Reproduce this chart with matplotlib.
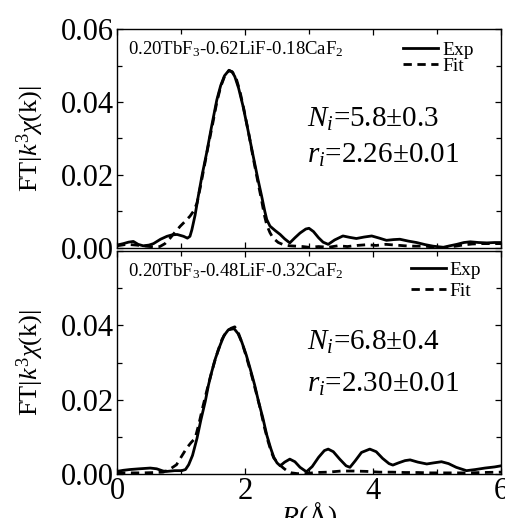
import matplotlib
matplotlib.use("Agg")
import matplotlib.pyplot as plt
from matplotlib.ticker import MultipleLocator, FixedLocator, FuncFormatter

plt.rcParams['font.family'] = ['Liberation Serif', 'DejaVu Serif']
plt.rcParams['mathtext.fontset'] = 'custom'
plt.rcParams['mathtext.rm'] = 'Liberation Serif'
plt.rcParams['mathtext.it'] = 'Liberation Serif:italic'
plt.rcParams['mathtext.bf'] = 'Liberation Serif:bold'

# ---------------- data ----------------
top_exp_r = [0.00, 0.10, 0.18, 0.255, 0.33, 0.41, 0.50, 0.57, 0.68, 0.78, 0.86, 0.94, 1.04, 1.10,
             1.14, 1.17, 1.22, 1.27, 1.33, 1.40, 1.48, 1.56, 1.62, 1.68, 1.75, 1.80, 1.84, 1.90,
             1.97, 2.05, 2.13, 2.20, 2.26, 2.31, 2.34, 2.39, 2.47, 2.55, 2.62, 2.70, 2.78, 2.86,
             2.95, 3.00, 3.07, 3.15, 3.22, 3.30, 3.40, 3.53, 3.64, 3.74, 3.86, 3.98, 4.10, 4.21,
             4.32, 4.42, 4.55, 4.68, 4.82, 4.94, 5.10, 5.20, 5.31, 5.42, 5.52, 5.65, 5.78, 5.90, 6.00]
top_exp_v = [0.0008, 0.0012, 0.0016, 0.0018, 0.0010, 0.0006, 0.0008, 0.0012, 0.0024, 0.0032, 0.0036,
             0.0037, 0.0032, 0.0027, 0.0032, 0.0050, 0.0090, 0.0142, 0.0200, 0.0260, 0.0335, 0.0406,
             0.0445, 0.0472, 0.0487, 0.0482, 0.0470, 0.0438, 0.0388, 0.0320, 0.0250, 0.0190, 0.0142,
             0.0100, 0.0078, 0.0060, 0.0048, 0.0037, 0.0025, 0.0014, 0.0028, 0.0041, 0.0052, 0.0054,
             0.0045, 0.0028, 0.0016, 0.0010, 0.0022, 0.0033, 0.0029, 0.0026, 0.0030, 0.0033, 0.0027,
             0.0021, 0.0023, 0.0024, 0.0019, 0.0015, 0.0009, 0.0005, 0.0002, 0.0006, 0.0010, 0.0015,
             0.0017, 0.0015, 0.0014, 0.0015, 0.0015]

top_fit_r = [0.00, 0.15, 0.30, 0.45, 0.58, 0.67, 0.75, 0.83, 0.91, 0.99, 1.07, 1.14, 1.20, 1.25,
             1.30, 1.36, 1.42, 1.50, 1.56, 1.62, 1.68, 1.75, 1.80, 1.86, 1.92, 1.98, 2.06, 2.13,
             2.20, 2.26, 2.30, 2.34, 2.39, 2.44, 2.52, 2.60, 2.70, 2.80, 2.90, 3.00, 3.15, 3.30,
             3.45, 3.60, 3.75, 3.90, 4.05, 4.20, 4.35, 4.50, 4.65, 4.80, 4.95, 5.10, 5.25, 5.40,
             5.55, 5.70, 5.85, 6.00]
top_fit_v = [0.0006, 0.0010, 0.0008, 0.0005, 0.0003, 0.0004, 0.0012, 0.0027, 0.0044, 0.0060, 0.0074,
             0.0087, 0.0102, 0.0123, 0.0165, 0.0220, 0.0275, 0.0345, 0.0400, 0.0442, 0.0470, 0.0486,
             0.0483, 0.0466, 0.0430, 0.0382, 0.0312, 0.0245, 0.0182, 0.0130, 0.0092, 0.0063, 0.0042,
             0.0027, 0.0015, 0.0009, 0.0006, 0.0005, 0.0004, 0.0002, 0.0004, 0.0002, 0.0006, 0.0004,
             0.0007, 0.0009, 0.0007, 0.0010, 0.0008, 0.0006, 0.0005, 0.0005, 0.0003, 0.0001, 0.0004,
             0.0008, 0.0011, 0.0012, 0.0012, 0.0012]

bot_exp_r = [0.00, 0.10, 0.20, 0.35, 0.52, 0.62, 0.72, 0.78, 0.90, 1.01, 1.07, 1.12, 1.18, 1.25,
             1.31, 1.38, 1.43, 1.48, 1.54, 1.61, 1.67, 1.74, 1.83, 1.89, 1.95, 2.02, 2.08, 2.15,
             2.21, 2.28, 2.34, 2.40, 2.45, 2.50, 2.55, 2.62, 2.70, 2.78, 2.86, 2.96, 3.05, 3.15,
             3.24, 3.30, 3.38, 3.48, 3.58, 3.64, 3.72, 3.82, 3.95, 4.05, 4.15, 4.25, 4.31, 4.40,
             4.50, 4.58, 4.70, 4.84, 4.95, 5.07, 5.18, 5.30, 5.46, 5.60, 5.75, 5.90, 6.00]
bot_exp_v = [0.0007, 0.0010, 0.0012, 0.0014, 0.0016, 0.0014, 0.0008, 0.0007, 0.0009, 0.0009, 0.0012,
             0.0025, 0.0050, 0.0096, 0.0145, 0.0196, 0.0240, 0.0275, 0.0312, 0.0346, 0.0372, 0.0388,
             0.0391, 0.0378, 0.0355, 0.0320, 0.0284, 0.0240, 0.0196, 0.0150, 0.0105, 0.0070, 0.0045,
             0.0030, 0.0022, 0.0032, 0.0040, 0.0033, 0.0018, 0.0006, 0.0020, 0.0045, 0.0063, 0.0067,
             0.0060, 0.0040, 0.0022, 0.0018, 0.0035, 0.0058, 0.0067, 0.0060, 0.0042, 0.0028, 0.0024,
             0.0030, 0.0036, 0.0038, 0.0032, 0.0027, 0.0030, 0.0033, 0.0028, 0.0018, 0.0009, 0.0012,
             0.0016, 0.0019, 0.0022]

bot_fit_r = [0.00, 0.20, 0.40, 0.60, 0.72, 0.80, 0.87, 0.93, 1.00, 1.09, 1.16, 1.22, 1.28, 1.34,
             1.40, 1.46, 1.52, 1.58, 1.64, 1.71, 1.78, 1.84, 1.90, 1.96, 2.03, 2.10, 2.17, 2.24,
             2.30, 2.36, 2.41, 2.45, 2.52, 2.60, 2.66, 2.73, 2.82, 2.95, 3.10, 3.30, 3.50, 3.70,
             3.90, 4.10, 4.30, 4.50, 4.70, 4.90, 5.10, 5.30, 5.50, 5.70, 6.00]
bot_fit_v = [0.0003, 0.0003, 0.0003, 0.0004, 0.0005, 0.0010, 0.0018, 0.0025, 0.0045, 0.0070, 0.0085,
             0.0096, 0.0135, 0.0180, 0.0222, 0.0262, 0.0300, 0.0333, 0.0362, 0.0383, 0.0392, 0.0396,
             0.0378, 0.0350, 0.0310, 0.0268, 0.0222, 0.0175, 0.0128, 0.0088, 0.0060, 0.0043, 0.0028,
             0.0016, 0.0008, 0.0003, 0.0001, 0.0001, 0.0004, 0.0005, 0.0008, 0.0008, 0.0007, 0.0005,
             0.0005, 0.0004, 0.0004, 0.0003, 0.0003, 0.0003, 0.0003, 0.0004, 0.0005]

sample_labels = [r"0.20TbF$_3$-0.62LiF-0.18CaF$_2$", r"0.20TbF$_3$-0.48LiF-0.32CaF$_2$"]
n_labels = [r"$N_i$=5.8±0.3", r"$N_i$=6.8±0.4"]
r_labels = [r"$r_i$=2.26±0.01", r"$r_i$=2.30±0.01"]
legend_labels = ["Exp", "Fit"]
ylabel = r"FT|$k^3\chi$(k)|"
xlabel = r"$R$(Å)"

# ---------------- figure ----------------
W, H = 505, 518
fig = plt.figure(figsize=(W / 100, H / 100), dpi=100)
ax1 = fig.add_axes([117 / W, 1 - 248 / H, 384 / W, 219 / H])
ax2 = fig.add_axes([117 / W, 1 - 474 / H, 384 / W, 223 / H])

panels = [
    (ax1, top_exp_r, top_exp_v, top_fit_r, top_fit_v),
    (ax2, bot_exp_r, bot_exp_v, bot_fit_r, bot_fit_v),
]
n_y = [0.553, 0.556]
r_y = [0.39, 0.368]
leg_y = [0.945, 0.955]
leg_sp = [-0.05, 0.2]
leg_x = [0.745, 0.765]

for i, (ax, er, ev, fr, fv) in enumerate(panels):
    ax.plot(er, ev, color='black', lw=2.0, solid_joinstyle='round', label=legend_labels[0])
    ax.plot(fr, fv, color='black', lw=2.0, ls=(0, (3.0, 2.0)), label=legend_labels[1])
    ax.set_xlim(0, 6)
    ax.set_ylim(0, 0.06)
    ax.xaxis.set_major_locator(MultipleLocator(2))
    ax.xaxis.set_minor_locator(MultipleLocator(1))
    ax.yaxis.set_major_locator(MultipleLocator(0.02))
    ax.yaxis.set_minor_locator(MultipleLocator(0.01))
    ax.tick_params(which='both', direction='in', top=True, right=True, width=0.9)
    ax.tick_params(which='major', length=4, labelsize=22, pad=2)
    ax.tick_params(which='minor', length=3.5)
    for s in ax.spines.values():
        s.set_linewidth(1.0)
    ax.set_ylabel(ylabel, fontsize=19)
    ax.yaxis.set_label_coords(-0.185, 0.5)
    ax.text(0.028, 0.955, sample_labels[i], transform=ax.transAxes, fontsize=13.5,
            ha='left', va='top')
    ax.text(0.495, n_y[i], n_labels[i], transform=ax.transAxes, fontsize=21,
            ha='left', va='baseline')
    ax.text(0.495, r_y[i], r_labels[i], transform=ax.transAxes, fontsize=21,
            ha='left', va='baseline')
    ax.legend(loc='upper left', bbox_to_anchor=(leg_x[i], leg_y[i]), frameon=False, fontsize=14,
              handlelength=1.8, handletextpad=0.2, labelspacing=leg_sp[i],
              borderpad=0, borderaxespad=0)

ax1.tick_params(labelbottom=False)
ax1.yaxis.set_major_formatter(FuncFormatter(lambda v, p: '%.2f' % v))
ax2.yaxis.set_major_locator(FixedLocator([0.0, 0.02, 0.04, 0.06]))
ax2.yaxis.set_major_formatter(FuncFormatter(lambda v, p: '' if v > 0.05 else '%.2f' % v))
ax2.set_xlabel(xlabel, fontsize=20, labelpad=-4)

fig.savefig("out.png", dpi=100)
